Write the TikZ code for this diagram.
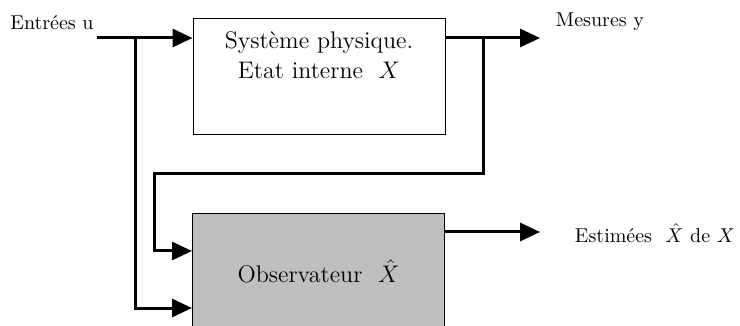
\documentclass[tikz,border=0pt]{standalone}
\usepackage{tikz}
\usetikzlibrary{arrows.meta}

\begin{document}
\begin{tikzpicture}[x=0.5pt,y=-0.5pt,
  bloc/.style={draw,line width=0.5pt,minimum width=126pt,inner sep=0pt},
  fleche/.style={line width=1.5pt,-{Triangle[length=10pt,width=9pt]}},
  fil/.style={line width=1.5pt}]
\useasboundingbox (0,0) rectangle (740,326);
% blocs
\node[bloc,minimum height=58pt] (sys) at (319,77) {};
\node[align=center,font=\large,anchor=north] (systxt) at (319,25)
     {Syst\`eme physique.\\[1pt] Etat interne \ $X$};
\node[bloc,fill=gray!50,minimum height=57pt,font=\large] (obs) at (318.5,271)
     {Observateur \ $\hat{X}$};
% textes
\node (u) at (52,23) {Entr\'ees u};
\node (y) at (600,22) {Mesures y};
\node (est) at (655,233) {Estim\'ees \ $\hat{X}$ de $X$};
\coordinate (u0) at (97,38);
\coordinate (b1) at (135,38);
\coordinate (b2) at (483,38);
\coordinate (yout) at (540,38);
\coordinate (xout) at (540,232);
% fils
\draw[fleche] (u0) -- (sys.west |- u0);
\draw[fleche] (sys.east |- u0) -- (yout);
\draw[fleche] (b2) -- (483,174) -- (154,174) -- (154,251) -- (obs.west |- 0,251);
\draw[fleche] (b1) -- (135,308) -- (obs.west |- 0,308);
\draw[fleche] (obs.east |- xout) -- (xout);
\end{tikzpicture}
\end{document}
